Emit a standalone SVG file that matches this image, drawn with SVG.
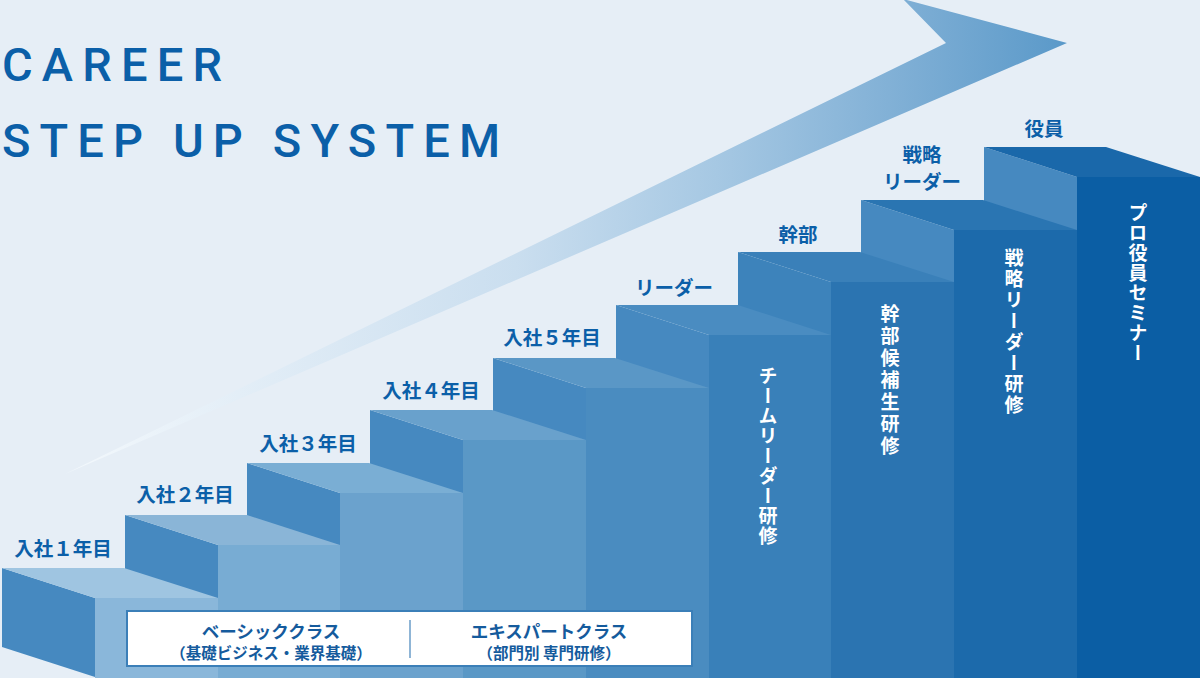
<svg xmlns="http://www.w3.org/2000/svg" width="1200" height="678" viewBox="0 0 1200 678">
<defs>
<linearGradient id="arrowGrad" gradientUnits="userSpaceOnUse" x1="65" y1="0" x2="1067" y2="0">
<stop offset="0" stop-color="#f3f8fc"/>
<stop offset="0.45" stop-color="#cadeef"/>
<stop offset="0.65" stop-color="#a6c8e3"/>
<stop offset="0.85" stop-color="#7cadd4"/>
<stop offset="1" stop-color="#5a99c9"/>
</linearGradient>
<style>
.title{font-family:Roboto,"Liberation Sans",sans-serif;font-weight:500;font-size:47px;fill:#0b5fa8}
.lbl{font-family:"Noto Sans CJK JP","Noto Sans",sans-serif;font-weight:700;font-size:19.5px;fill:#0b5fa8;text-anchor:middle}
.vt{font-family:"Noto Sans CJK JP","Noto Sans",sans-serif;font-weight:700;font-size:19px;fill:#ffffff;writing-mode:vertical-rl;text-anchor:start}
.side{fill:#4689c0}
.box1{font-family:"Noto Sans CJK JP","Noto Sans",sans-serif;font-weight:700;font-size:17.5px;fill:#155b9d;text-anchor:middle}
.box2{font-family:"Noto Sans CJK JP","Noto Sans",sans-serif;font-weight:700;font-size:15.5px;fill:#155b9d;text-anchor:middle}
</style>
</defs>
<rect x="0" y="0" width="1200" height="678" fill="#e6eef6"/>

<g id="arrow">
<polygon points="65,474 946,43 903,-1 1067,43" fill="url(#arrowGrad)"/>
</g>

<g id="title">
<text class="title" x="2" y="81" textLength="220" lengthAdjust="spacing">CAREER</text>
<text class="title" x="2" y="157" textLength="498" lengthAdjust="spacing">STEP UP SYSTEM</text>
</g>

<g id="step9">
<polygon class="side" points="984,147 1077,177 1077,677 984,647"/>
<polygon points="984,147 1106,147 1200,177 1077,177" fill="#1a68aa"/>
<rect x="1077" y="177" width="123" height="501" fill="#0b5ea4"/>
<text class="lbl" x="1044" y="136">役員</text>
<text class="vt" x="1138" y="203" style="letter-spacing:1px">プロ役員セミナー</text>
</g>

<g id="step8">
<polygon class="side" points="861,200 954,230 954,677 861,647"/>
<polygon points="861,200 983,200 1077,230 954,230" fill="#2a75b2"/>
<rect x="954" y="230" width="123" height="448" fill="#1c6aab"/>
<text class="lbl" x="922" y="162">戦略</text>
<text class="lbl" x="922" y="189">リーダー</text>
<text class="vt" x="1014" y="248" style="letter-spacing:2px">戦略リーダー研修</text>
</g>

<g id="step7">
<polygon fill="#3d83bb" points="738,252 831,282 831,677 738,647"/>
<polygon points="738,252 860,252 954,282 831,282" fill="#3a80b9"/>
<rect x="831" y="282" width="123" height="396" fill="#2b74b1"/>
<text class="lbl" x="798" y="242">幹部</text>
<text class="vt" x="890" y="304" style="letter-spacing:3px">幹部候補生研修</text>
</g>

<g id="step6">
<polygon class="side" points="616,305 709,335 709,677 616,647"/>
<polygon points="616,305 738,305 831,335 709,335" fill="#4a8cc1"/>
<rect x="709" y="335" width="122" height="343" fill="#3980b9"/>
<text class="lbl" x="674" y="295">リーダー</text>
<text class="vt" x="768" y="366" style="letter-spacing:1px">チームリーダー研修</text>
</g>

<g id="step5">
<polygon class="side" points="493,358 586,388 586,677 493,647"/>
<polygon points="493,358 615,358 709,388 586,388" fill="#5a97c6"/>
<rect x="586" y="388" width="123" height="290" fill="#4a8cc0"/>
<text class="lbl" x="552" y="345">入社５年目</text>
</g>

<g id="step4">
<polygon class="side" points="370,410 463,440 463,677 370,647"/>
<polygon points="370,410 492,410 586,440 463,440" fill="#69a1cc"/>
<rect x="463" y="440" width="123" height="238" fill="#5a98c6"/>
<text class="lbl" x="431" y="398">入社４年目</text>
</g>

<g id="step3">
<polygon class="side" points="247,463 340,493 340,677 247,647"/>
<polygon points="247,463 369,463 463,493 340,493" fill="#7aaed4"/>
<rect x="340" y="493" width="123" height="185" fill="#6ba2cd"/>
<text class="lbl" x="308" y="451">入社３年目</text>
</g>

<g id="step2">
<polygon class="side" points="125,515 218,545 218,677 125,647"/>
<polygon points="125,515 247,515 340,545 218,545" fill="#8ab5d7"/>
<rect x="218" y="545" width="122" height="133" fill="#78acd3"/>
<text class="lbl" x="185" y="502">入社２年目</text>
</g>

<g id="step1">
<polygon class="side" points="2,568 95,598 95,677 2,647"/>
<polygon points="2,568 124,568 218,598 95,598" fill="#9fc5e1"/>
<rect x="95" y="598" width="123" height="80" fill="#8ab7da"/>
<text class="lbl" x="63" y="556">入社１年目</text>
</g>

<g id="classbox">
<rect x="127" y="611" width="565" height="55" fill="#ffffff" stroke="#3b7fb8" stroke-width="2"/>
<line x1="410" y1="620" x2="410" y2="658" stroke="#6a9cc8" stroke-width="1.5"/>
<text class="box1" x="271" y="638">ベーシッククラス</text>
<text class="box2" x="271" y="659">（基礎ビジネス・業界基礎）</text>
<text class="box1" x="549" y="638">エキスパートクラス</text>
<text class="box2" x="549" y="659">（部門別 専門研修）</text>
</g>
</svg>
